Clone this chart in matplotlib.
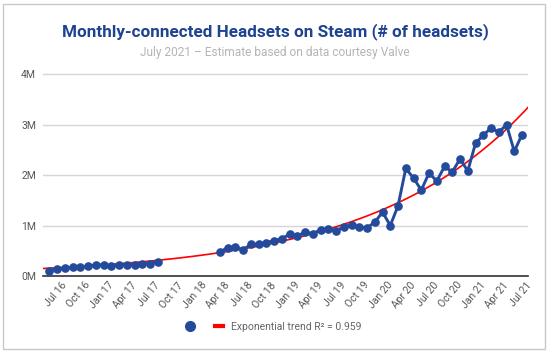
import matplotlib
matplotlib.use("Agg")
import matplotlib.pyplot as plt
import numpy as np
from matplotlib.transforms import ScaledTranslation
from matplotlib.lines import Line2D
from matplotlib.patches import Rectangle

plt.rcParams['font.family'] = ['Roboto', 'DejaVu Sans']

# ---- data (millions of headsets), month index 0 = Jul 2016 ----
months_a = list(range(0, 15))          # Jul 16 .. Sep 17
values_a = [0.105, 0.14, 0.16, 0.17, 0.18, 0.19, 0.22, 0.22, 0.20, 0.225,
            0.225, 0.22, 0.24, 0.245, 0.285]
months_b = list(range(22, 62))         # May 18 .. Aug 21
values_b = [0.475, 0.56, 0.58, 0.515, 0.63, 0.63, 0.66, 0.70, 0.74, 0.825,
            0.79, 0.87, 0.84, 0.915, 0.925, 0.90, 0.97, 1.015, 0.965, 0.955,
            1.065, 1.265, 1.00, 1.39, 2.13, 1.94, 1.70, 2.04, 1.88, 2.17,
            2.06, 2.32, 2.08, 2.63, 2.79, 2.93, 2.85, 2.995, 2.47, 2.80]
# exponential trend y = a * exp(b * month)
trend_a = 0.155
trend_b = 0.0497
tick_months = list(range(0, 61, 3))
tick_labels = ["Jul 16", "Oct 16", "Jan 17", "Apr 17", "Jul 17", "Oct 17",
               "Jan 18", "Apr 18", "Jul 18", "Oct 18", "Jan 19", "Apr 19",
               "Jul 19", "Oct 19", "Jan 20", "Apr 20", "Jul 20", "Oct 20",
               "Jan 21", "Apr 21", "Jul 21"]
y_ticks = [0, 1, 2, 3, 4]
y_labels = ["0M", "1M", "2M", "3M", "4M"]
title = "Monthly-connected Headsets on Steam (# of headsets)"
subtitle = "July 2021 \u2013 Estimate based on data courtesy Valve"
trend_label = "Exponential trend R\u00b2 = 0.959"

BLUE = "#244a9b"
RED = "#ff0000"

fig = plt.figure(figsize=(5.5, 3.54), dpi=100)
ax = fig.add_axes([43/550, 1-276/354, 485/550, (276-69)/354])

xmin, xmax = -0.81, 61.77
xs = np.linspace(xmin, xmax, 300)
ax.plot(xs, trend_a*np.exp(trend_b*xs), color=RED, lw=1.2, zorder=2)

for m, v in ((months_a, values_a), (months_b, values_b)):
    ax.plot(m, v, color=BLUE, lw=2.1, marker='o', markersize=5.2, zorder=3)

ax.set_xlim(xmin, xmax)
ax.set_ylim(0, 4.1)
ax.set_yticks(y_ticks)
ax.set_yticklabels(y_labels)
ax.set_xticks(tick_months)
ax.set_xticklabels(tick_labels)
ax.tick_params(axis='both', length=0, colors='#555555', labelsize=7.5)
ax.tick_params(axis='y', pad=5)
ax.tick_params(axis='x', pad=3)
off = ScaledTranslation(12/100, 0, fig.dpi_scale_trans)
for lab in ax.get_xticklabels():
    lab.set_rotation(50)
    lab.set_ha('right')
    lab.set_va('top')
    lab.set_rotation_mode('anchor')
    lab.set_transform(lab.get_transform() + off)

ax.grid(axis='y', color='#d6d6d6', lw=1)
ax.set_axisbelow(True)
for s in ('top', 'right', 'left'):
    ax.spines[s].set_visible(False)
ax.spines['bottom'].set_color('#333333')
ax.spines['bottom'].set_linewidth(1.2)

fig.text(0.5, 1-31.5/354, title, ha='center', va='center', fontsize=12.3,
         fontweight='bold', color='#1e4391')
fig.text(0.5, 1-52.5/354, subtitle, ha='center', va='center', fontsize=8.6,
         color='#b5b5b5')

h1 = Line2D([], [], ls='none', marker='o', markersize=7, color=BLUE)
h2 = Line2D([], [], color=RED, lw=3)
fig.legend([h1, h2], ['', trend_label], ncol=2, frameon=False,
           loc='center left', bbox_to_anchor=((190.7-4.5)/550, 1-326.7/354),
           borderpad=0, borderaxespad=0, handlelength=0.75,
           handletextpad=0.75, columnspacing=1.3, fontsize=7.5,
           labelcolor='#666666')

fig.patches.append(Rectangle((3/550, 5/354), 542/550, 345/354,
                             transform=fig.transFigure, fill=False,
                             edgecolor='#c8c8c8', lw=1))

fig.savefig("out.png", dpi=100)
